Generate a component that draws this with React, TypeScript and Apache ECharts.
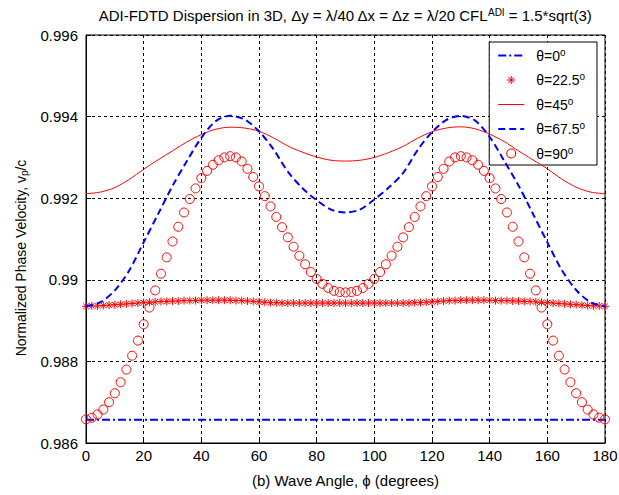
import React, { useEffect, useRef } from 'react';
import * as echarts from 'echarts';

// x positions (degrees)
const anglesEvery2 = Array.from({ length: 91 }, (_, i) => i * 2);
const anglesEvery5 = Array.from({ length: 37 }, (_, i) => i * 5);
const anglesEvery20 = [0, 20, 40, 60, 80, 100, 120, 140, 160, 180];

const xTicks = [0, 20, 40, 60, 80, 100, 120, 140, 160, 180];
const yTicks = [0.986, 0.988, 0.99, 0.992, 0.994, 0.996];

// theta = 0 deg (dash-dot, sampled every 20 deg)
const theta0 = [0.98657, 0.98657, 0.98657, 0.98657, 0.98657, 0.98657, 0.98657, 0.98657, 0.98657, 0.98657];

// theta = 22.5 deg (asterisks, every 2 deg)
const theta22 = [
  0.98935, 0.98936, 0.98936, 0.98937, 0.98938, 0.98939, 0.9894, 0.98941, 0.98942, 0.98943, 0.98944,
  0.98945, 0.98946, 0.98947, 0.98947, 0.98948, 0.98948, 0.98949, 0.98949, 0.98949, 0.9895,
  0.9895, 0.9895, 0.9895, 0.9895, 0.9895, 0.98949, 0.98949, 0.98948, 0.98947, 0.98946,
  0.98945, 0.98944, 0.98944, 0.98943, 0.98943, 0.98943, 0.98943, 0.98943, 0.98943, 0.98943,
  0.98943, 0.98943, 0.98943, 0.98943, 0.98943,
  0.98943, 0.98943, 0.98943, 0.98943, 0.98943, 0.98943, 0.98943, 0.98943, 0.98943,
  0.98943, 0.98943, 0.98944, 0.98944, 0.98945, 0.98946, 0.98947, 0.98948, 0.98949, 0.98949,
  0.9895, 0.9895, 0.9895, 0.9895, 0.9895, 0.9895, 0.98949, 0.98949, 0.98949, 0.98948,
  0.98948, 0.98947, 0.98947, 0.98946, 0.98945, 0.98944, 0.98943, 0.98942, 0.98941, 0.9894,
  0.98939, 0.98938, 0.98937, 0.98936, 0.98936, 0.98935,
];

// theta = 45 deg (thin solid, every 5 deg)
const theta45 = [
  0.99211, 0.99215, 0.99226, 0.99246, 0.99271, 0.99294, 0.99316, 0.99338, 0.99356, 0.99369,
  0.99374, 0.99372, 0.99364, 0.99348, 0.99328, 0.99313, 0.99301, 0.99293, 0.99291, 0.99293,
  0.993, 0.99312, 0.99327, 0.99347, 0.99363, 0.99372, 0.99375, 0.9937, 0.99357, 0.99339,
  0.99316, 0.99294, 0.99272, 0.99247, 0.99227, 0.99215, 0.99211,
];

// theta = 67.5 deg (thick dashed, every 5 deg)
const theta67 = [
  0.98935, 0.98945, 0.98974, 0.99023, 0.99092, 0.99161, 0.9923, 0.99291, 0.99348, 0.99389,
  0.99402, 0.99393, 0.99364, 0.9932, 0.99265, 0.99225, 0.99195, 0.99172, 0.99165, 0.99172,
  0.99197, 0.99226, 0.99262, 0.99318, 0.99362, 0.99392, 0.99402, 0.9939, 0.9935, 0.99292,
  0.99231, 0.99162, 0.99092, 0.99024, 0.98975, 0.98945, 0.98935,
];

// theta = 90 deg (open circles, every 2 deg)
const theta90 = [
  0.98658, 0.98662, 0.9867, 0.98682, 0.987, 0.98722, 0.98749, 0.9878, 0.98814, 0.98851,
  0.98891, 0.98932, 0.98974, 0.99015, 0.99055, 0.99094, 0.9913, 0.99165, 0.99198, 0.99224,
  0.99249, 0.99267, 0.99282, 0.99293, 0.993, 0.99303, 0.993, 0.9929, 0.99272, 0.99252,
  0.99229, 0.99205, 0.9918, 0.99154, 0.99129, 0.99104, 0.99081, 0.99059, 0.99038, 0.99019,
  0.99002, 0.9899, 0.9898, 0.98973, 0.9897, 0.98969,
  0.9897, 0.98973, 0.9898, 0.9899, 0.99002, 0.99019, 0.99038, 0.99059, 0.99081, 0.99104,
  0.99129, 0.99154, 0.9918, 0.99205, 0.99229, 0.99252, 0.99272, 0.9929, 0.993, 0.99303,
  0.993, 0.99293, 0.99282, 0.99267, 0.99249, 0.99224, 0.99198, 0.99165, 0.9913, 0.99094,
  0.99055, 0.99015, 0.98974, 0.98932, 0.98891, 0.98851, 0.98814, 0.9878, 0.98749, 0.98722,
  0.987, 0.98682, 0.9867, 0.98662, 0.98658,
];

const seriesNames = ['θ=0', 'θ=22.5', 'θ=45', 'θ=67.5', 'θ=90'];

const RED = '#ff0000';
const BLUE = '#0000ff';
const FONT = '"Liberation Sans", Arial, Helvetica, sans-serif';

const pair = (xs: number[], ys: number[]) => xs.map((x, i) => [x, ys[i]]);

export default function App() {
  const ref = useRef<HTMLDivElement>(null);

  useEffect(() => {
    if (!ref.current) return;
    const chart = echarts.init(ref.current, null, { renderer: 'svg' });
    const asterisk = 'path://M4,0L4,8M0,4L8,4M1.2,1.2L6.8,6.8M1.2,6.8L6.8,1.2';
    const ringIcon =
      'path://M0,5A5,5,0,1,0,10,5A5,5,0,1,0,0,5ZM1.1,5A3.9,3.9,0,1,1,8.9,5A3.9,3.9,0,1,1,1.1,5Z';
    const supStyle = { fontSize: 10, lineHeight: 10, padding: [0, 0, 7, 0], color: '#000', fontFamily: FONT };

    chart.setOption({
      animation: false,
      backgroundColor: '#ffffff',
      textStyle: { fontFamily: FONT },
      title: {
        text: 'ADI-FDTD Dispersion in 3D, Δy = λ/40 Δx = Δz = λ/20 CFL{sup|ADI} = 1.5*sqrt(3)',
        left: 340,
        top: 2,
        textAlign: 'center',
        textStyle: {
          fontSize: 15,
          lineHeight: 17,
          fontWeight: 'normal',
          color: '#000',
          fontFamily: FONT,
          rich: { sup: supStyle },
        },
      },
      grid: {
        left: 86,
        right: 14,
        top: 35,
        bottom: 52,
        show: true,
        borderColor: '#000',
        borderWidth: 1,
        backgroundColor: 'rgba(0,0,0,0)',
        outerBoundsMode: 'none',
      },
      legend: {
        orient: 'vertical',
        right: 22,
        top: 42,
        itemWidth: 26,
        itemHeight: 10,
        itemGap: 7.5,
        padding: [5, 12, 3, 8],
        backgroundColor: '#fff',
        borderColor: '#000',
        borderWidth: 1,
        borderRadius: 0,
        selectedMode: false,
        itemStyle: { borderWidth: 1 },
        lineStyle: { width: 'inherit' },
        data: [
          seriesNames[0],
          seriesNames[1],
          seriesNames[2],
          seriesNames[3],
          {
            name: seriesNames[4],
            icon: ringIcon,
            itemStyle: { color: RED, borderWidth: 0, opacity: 1 },
          },
        ],
        formatter: (n: string) => n + '{sup|o}',
        textStyle: {
          fontSize: 14,
          lineHeight: 17,
          color: '#000',
          fontFamily: FONT,
          padding: [0, 0, 0, 7],
          rich: { sup: supStyle },
        },
      },
      xAxis: {
        type: 'value',
        min: xTicks[0],
        max: xTicks[xTicks.length - 1],
        interval: 20,
        name: '(b) Wave Angle, ϕ (degrees)',
        nameLocation: 'middle',
        nameGap: 30,
        nameTextStyle: { fontSize: 15, color: '#000', fontFamily: FONT },
        axisLine: { show: true, lineStyle: { color: '#000', width: 1 } },
        axisTick: { show: true, inside: true, length: 5, lineStyle: { color: '#000' } },
        axisLabel: { color: '#000', fontSize: 15, margin: 5, fontFamily: FONT },
        splitLine: { show: true, lineStyle: { color: '#000', width: 1, type: [3, 3] } },
      },
      yAxis: {
        type: 'value',
        min: yTicks[0],
        max: yTicks[yTicks.length - 1],
        interval: 0.002,
        name: 'Normalized Phase Velocity, v{sub|p}/c',
        nameLocation: 'middle',
        nameRotate: 90,
        nameGap: 43,
        nameTextStyle: {
          fontSize: 14,
          color: '#000',
          fontFamily: FONT,
          padding: [0, 38, 0, 0],
          rich: { sub: { fontSize: 10, lineHeight: 10, padding: [8, 0, 0, 0], color: '#000', fontFamily: FONT } },
        },
        axisLine: { show: true, lineStyle: { color: '#000', width: 1 } },
        axisTick: { show: true, inside: true, length: 5, lineStyle: { color: '#000' } },
        axisLabel: {
          color: '#000',
          fontSize: 15,
          margin: 8,
          fontFamily: FONT,
          formatter: (v: number) => String(parseFloat(v.toFixed(3))),
        },
        splitLine: { show: true, lineStyle: { color: '#000', width: 1, type: [3, 3] } },
      },
      series: [
        {
          name: seriesNames[0],
          type: 'line',
          data: pair(anglesEvery20, theta0),
          symbol: 'none',
          lineStyle: { color: BLUE, width: 2, type: [8, 3, 2, 3] },
          itemStyle: { color: BLUE, opacity: 0 },
          z: 2,
        },
        {
          name: seriesNames[1],
          type: 'line',
          data: pair(anglesEvery2, theta22),
          symbol: asterisk,
          symbolSize: 8,
          showSymbol: true,
          lineStyle: { color: RED, width: 0, opacity: 0 },
          itemStyle: { color: RED, borderColor: RED, borderWidth: 1 },
          z: 3,
        },
        {
          name: seriesNames[2],
          type: 'line',
          data: pair(anglesEvery5, theta45),
          symbol: 'none',
          smooth: 0.3,
          lineStyle: { color: RED, width: 1 },
          itemStyle: { color: RED, opacity: 0 },
          z: 4,
        },
        {
          name: seriesNames[3],
          type: 'line',
          data: pair(anglesEvery5, theta67),
          symbol: 'none',
          smooth: 0.3,
          lineStyle: { color: BLUE, width: 2, type: [7, 4] },
          itemStyle: { color: BLUE, opacity: 0 },
          z: 5,
        },
        {
          name: seriesNames[4],
          type: 'line',
          data: pair(anglesEvery2, theta90),
          symbol: 'circle',
          symbolSize: 9,
          showSymbol: true,
          lineStyle: { color: RED, width: 0, opacity: 0 },
          itemStyle: { color: 'rgba(255,255,255,0)', borderColor: RED, borderWidth: 1 },
          z: 6,
        },
      ],
    });

    return () => chart.dispose();
  }, []);

  return <div ref={ref} style={{ position: 'absolute', left: 0, top: 0, width: 619, height: 495 }} />;
}
